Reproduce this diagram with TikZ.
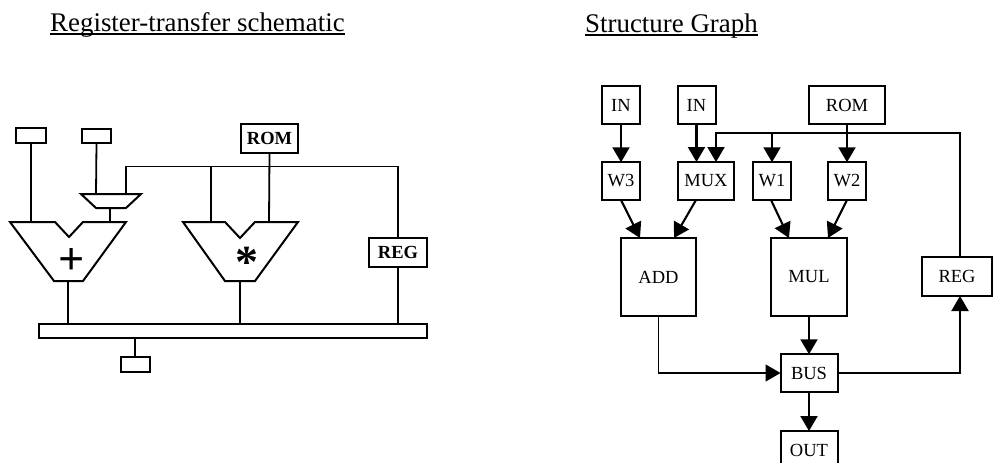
\documentclass[tikz,border=0pt]{standalone}
\usepackage{fontspec}
\setmainfont{Liberation Serif}
\usetikzlibrary{arrows.meta}
\tikzset{
  wire/.style={line width=1.8pt},
  shp/.style={draw=black,line width=2pt,fill=white,line join=miter},
  bx/.style={draw=black,line width=2pt,fill=white,inner sep=0pt,outer sep=0pt,font=\fontsize{18.5}{18.5}\selectfont},
  bbx/.style={bx,font=\fontsize{18.5}{18.5}\selectfont\bfseries},
  arr/.style={line width=2.1pt,-{Triangle[length=15pt,width=17pt]}},
  arrt/.style={line width=1.5pt,-{Triangle[length=15pt,width=17pt]}},
  ttl/.style={inner sep=0pt,anchor=base west,font=\fontsize{26.9}{26.9}\selectfont},
  ul/.style={line width=1.4pt}
}
\begin{document}
\begin{tikzpicture}[x=1pt,y=-1pt]
\useasboundingbox (0,0) rectangle (993,463);
\fill[white] (0,0) rectangle (993,463);
% titles
\node[ttl] (t1) at (50,31) {Register-transfer schematic};
\node[ttl] (t2) at (585,32) {Structure Graph};
\draw[ul] ([yshift=-3pt]t1.base west) -- ([yshift=-3pt]t1.base east);
\draw[ul] ([yshift=-3pt]t2.base west) -- ([yshift=-3pt]t2.base east);
% ---- left schematic ----
\coordinate (junL) at (126,166.5);
\coordinate (junR) at (398,166.5);
\coordinate (muxIa) at (96,194);
\coordinate (muxIb) at (126,194);
\coordinate (muxO) at (110,208);
\coordinate (addIa) at (31,222);
\coordinate (addIb) at (110,222);
\coordinate (addO) at (68,281);
\coordinate (mulIa) at (211,222);
\coordinate (mulIb) at (269,222);
\coordinate (mulO) at (240,281);
\coordinate (jA) at (211,166.5);
\coordinate (busA) at (68,324);
\coordinate (busB) at (240,324);
\coordinate (busC) at (398,324);
\node[bx,minimum width=30pt,minimum height=15pt] (lb1) at (31,135.5) {};
\node[bx,minimum width=29pt,minimum height=14.5pt] (lb2) at (96.5,136) {};
\node[bbx,minimum width=57pt,minimum height=29pt] (lrom) at (269.5,138) {ROM};
\node[bbx,minimum width=58pt,minimum height=29pt] (lreg) at (398,252.5) {REG};
\node[bx,minimum width=388pt,minimum height=14pt] (lbus) at (233,331) {};
\node[bx,minimum width=29pt,minimum height=15pt] (lb3) at (135,364.5) {};
\draw[wire] (lb1.south) -- (addIa);
\draw[wire] (lb2.south) -- (muxIa);
\draw[wire] (muxO) -- (addIb);
\draw[wire] (muxIb) -- (junL) -- (junR) -- (lreg.north);
\draw[wire] (jA) -- (mulIa);
\draw[wire] (lrom.south) -- (mulIb);
\draw[wire] (addO) -- (busA);
\draw[wire] (mulO) -- (busB);
\draw[wire] (lreg.south) -- (busC);
\draw[wire] (lbus.south -| lb3.north) -- (lb3.north);
\draw[shp] (81,194) -- (141,194) -- (126,208) -- (96,208) -- cycle;
\draw[shp] (10,222) -- (55,222) -- (69,237) -- (83,222) -- (126,222) -- (83,281) -- (54,281) -- cycle;
\draw[shp] (183,222) -- (225,222) -- (240,238) -- (255,222) -- (298,222) -- (255,281) -- (225,281) -- cycle;
\node[inner sep=0pt,font=\fontsize{46}{46}\selectfont\bfseries] (plus) at (72,262) {+};
\node[inner sep=0pt,font=\fontsize{46}{46}\selectfont\bfseries] (star) at (247,262) {*};
% ---- right graph ----
\tikzset{gb/.style={bx,minimum height=37.5pt}}
\node[gb,minimum width=38pt] (in1) at (621,105) {IN};
\node[gb,minimum width=38pt] (in2) at (696.5,105) {IN};
\node[gb,minimum width=76pt] (rrom) at (847,105) {ROM};
\node[gb,minimum width=38pt] (w3) at (621,181) {W3};
\node[gb,minimum width=56pt] (mux) at (706,181) {MUX};
\node[gb,minimum width=38pt] (w1) at (772,181) {W1};
\node[gb,minimum width=38pt] (w2) at (847,181) {W2};
\node[bx,minimum width=75pt,minimum height=78pt] (add) at (658.5,277) {ADD};
\node[bx,minimum width=76pt,minimum height=78pt] (mul) at (809,277) {MUL};
\node[bx,minimum width=70pt,minimum height=39pt] (rreg) at (957,276.5) {REG};
\node[gb,minimum width=57pt] (bus) at (809,373) {BUS};
\node[bx,minimum width=57pt,minimum height=38pt] (out) at (809,450) {OUT};
\coordinate (muxT) at (716,162);
\coordinate (busY) at (716,133);
\coordinate (regY) at (960,133);
\coordinate (w1Y) at (772,133);
\coordinate (regT) at (960,257);
\coordinate (regB) at (960,296);
\coordinate (addA) at (640,238);
\coordinate (addB) at (674,238);
\coordinate (mulA) at (789,238);
\coordinate (mulB) at (828,238);
\coordinate (w3O) at (621,200);
\coordinate (muxO2) at (696,200);
\coordinate (w1O) at (771,200);
\coordinate (w2O) at (847,200);
\coordinate (in2T) at (696.5,162);
\draw[arr] (in1.south) -- (w3.north);
\draw[arr] (in2.south) -- (in2T);
\draw[arr] (rrom.south) -- (w2.north);
\draw[arr] (regT) -- (regY) -- (busY) -- (muxT);
\draw[arr] (w1Y) -- (w1.north);
\draw[arr] (w3O) -- (addA);
\draw[arr] (muxO2) -- (addB);
\draw[arr] (w1O) -- (mulA);
\draw[arr] (w2O) -- (mulB);
\draw[arr] (mul.south) -- (bus.north);
\draw[arrt] (add.south) |- (bus.west);
\draw[arr] (bus.east) -| (regB);
\draw[arr] (bus.south) -- (out.north);
\end{tikzpicture}
\end{document}
